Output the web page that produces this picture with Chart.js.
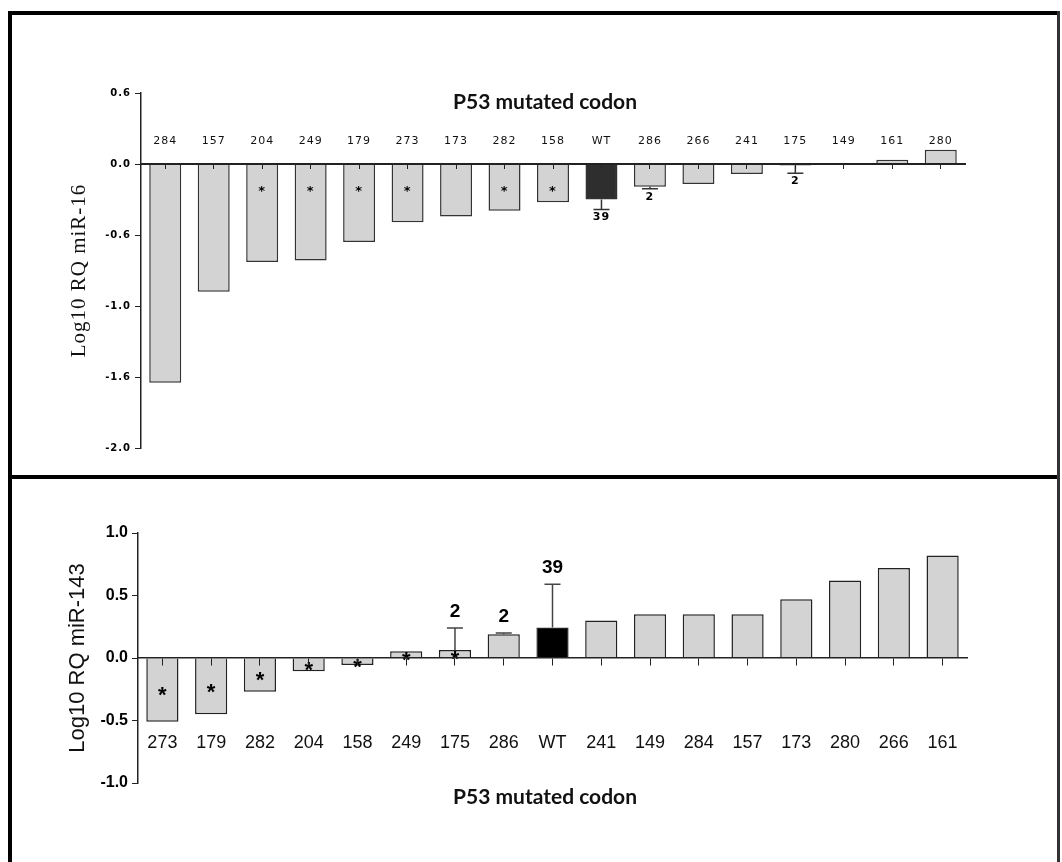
<!DOCTYPE html>
<html>
<head>
<meta charset="utf-8">
<script src="https://cdn.jsdelivr.net/npm/chart.js@4.4.1/dist/chart.umd.min.js"></script>
<style>
  body { margin: 0; background: #fff; }
  #page { position: relative; width: 1062px; height: 862px; overflow: hidden; background: #fff; }
  canvas { position: absolute; left: 0; }
  #c16 { top: 0; }
  #c143 { top: 477px; }
  .rule { position: absolute; background: #000; }
  .title { position: absolute; left: 545px; transform: translate(-50%, -50%);
           font: bold 21px Lato, "Open Sans", sans-serif; color: #111; white-space: nowrap; }
</style>
</head>
<body>
<div id="page">
  <canvas id="c16" width="1062" height="477"></canvas>
  <canvas id="c143" width="1062" height="385"></canvas>
  <div class="title" style="top:100px">P53 mutated codon</div>
  <div class="title" style="top:795px">P53 mutated codon</div>
  <div class="rule" style="left:8px;top:11px;width:1052px;height:4px"></div>
  <div class="rule" style="left:8px;top:11px;width:4px;height:851px"></div>
  <div class="rule" style="left:8px;top:475px;width:1052px;height:4px"></div>
  <div class="rule" style="left:1057px;top:11px;width:3px;height:851px;background:#333"></div>
</div>
<script>
// miR-16 panel (top)
const codons16 = ['284', '157', '204', '249', '179', '273', '173', '282', '158', 'WT', '286', '266', '241', '175', '149', '161', '280'];
const rq16 = [-1.54, -0.90, -0.69, -0.68, -0.55, -0.41, -0.37, -0.33, -0.27, -0.25, -0.16, -0.14, -0.07, -0.01, 0, 0.03, 0.10];
const err16 = [0, 0, 0, 0, 0, 0, 0, 0, 0, 0.07, 0.015, 0, 0, 0.055, 0, 0, 0];
const n16 = ['', '', '', '', '', '', '', '', '', '39', '2', '', '', '2', '', '', ''];
const star16 = [0, 0, 1, 1, 1, 1, 0, 1, 1, 0, 0, 0, 0, 0, 0, 0, 0];
const yLabels16 = ['0.6', '0.0', '-0.6', '-1.0', '-1.6', '-2.0']; // as printed, top to bottom

// miR-143 panel (bottom)
const codons143 = ['273', '179', '282', '204', '158', '249', '175', '286', 'WT', '241', '149', '284', '157', '173', '280', '266', '161'];
const rq143 = [-0.51, -0.45, -0.27, -0.105, -0.055, 0.055, 0.065, 0.19, 0.245, 0.30, 0.35, 0.35, 0.35, 0.47, 0.62, 0.72, 0.82];
const err143 = [0, 0, 0, 0, 0, 0, 0.175, 0.01, 0.345, 0, 0, 0, 0, 0, 0, 0, 0];
const n143 = ['', '', '', '', '', '', '2', '2', '39', '', '', '', '', '', '', '', ''];
const star143 = [1, 1, 1, 1, 1, 1, 1, 0, 0, 0, 0, 0, 0, 0, 0, 0, 0];

// error bars, n counts and asterisks, placed with the chart's own scales
const barMarks = {
  id: 'barMarks',
  beforeDraw(chart, args, o) {
    chart.ctx.letterSpacing = o.spacing || '0px';
  },
  afterDatasetsDraw(chart, args, o) {
    const ctx = chart.ctx;
    const xs = chart.scales.x, ys = chart.scales.y;
    const zero = ys.getPixelForValue(0);
    ctx.save();
    ctx.fillStyle = '#000';
    ctx.textAlign = 'center';
    o.values.forEach((v, i) => {
      const px = xs.getPixelForValue(i);
      const sgn = v < 0 ? -1 : 1;
      const barEnd = ys.getPixelForValue(v);
      let tip = barEnd;
      if (o.errors[i]) {
        tip = ys.getPixelForValue(v + sgn * o.errors[i]);
        ctx.strokeStyle = o.errColor;
        ctx.lineWidth = 1.5;
        ctx.beginPath();
        ctx.moveTo(px, barEnd);
        ctx.lineTo(px, tip);
        ctx.moveTo(px - o.cap, tip);
        ctx.lineTo(px + o.cap, tip);
        ctx.stroke();
      }
      if (o.counts[i]) {
        ctx.font = o.countFont;
        ctx.textBaseline = 'middle';
        ctx.fillText(o.counts[i], px, tip - sgn * o.countGap);
      }
      if (o.stars[i]) {
        const sy = o.starDepth ? zero + o.starDepth : (zero + barEnd) / 2;
        ctx.font = o.starFont;
        ctx.textBaseline = 'alphabetic';
        ctx.fillText('*', px, sy + o.starSize * 0.57);
      }
    });
    ctx.restore();
  },
  afterDraw(chart) {
    chart.ctx.letterSpacing = '0px';
  }
};

function panel(id, p) {
  return new Chart(document.getElementById(id), {
    type: 'bar',
    data: {
      labels: p.labels,
      datasets: [{
        data: p.values,
        backgroundColor: p.labels.map(c => c === 'WT' ? p.wtColor : '#d3d3d3'),
        borderColor: p.edge,
        borderWidth: 1.5,
        barPercentage: 0.66,
        categoryPercentage: 1
      }]
    },
    options: {
      responsive: false,
      animation: false,
      devicePixelRatio: 1,
      layout: { padding: p.pad },
      plugins: {
        legend: { display: false },
        tooltip: { enabled: false },
        barMarks: p.marks
      },
      scales: {
        x: {
          position: { y: 0 },
          offset: true,
          grid: { offset: false, drawOnChartArea: false, tickLength: p.tickLen, color: '#222', z: 1 },
          border: { color: '#222', width: p.axisWidth, z: 1 },
          ticks: { font: p.xFont, color: '#111', padding: p.xPad, maxRotation: 0, autoSkip: false }
        },
        y: {
          min: p.min,
          max: p.max,
          ticks: { stepSize: 0.5, font: p.yFont, color: '#000', padding: 4, callback: p.yText },
          grid: { drawOnChartArea: false, tickLength: 6, color: '#222' },
          border: { color: '#222', width: 1.5 },
          title: { display: true, text: p.yTitle, font: p.titleFont, color: '#111', padding: { top: p.titleGap, bottom: 0 } },
          afterFit: s => { s.width = p.axisLeft; }
        }
      }
    },
    plugins: [barMarks]
  });
}

panel('c16', {
  labels: codons16, values: rq16, wtColor: '#2e2e2e', edge: '#333',
  pad: { left: 0, top: 93, right: 97, bottom: 29 },
  min: -2.0, max: 0.5, axisLeft: 141, axisWidth: 2, tickLen: 4,
  xFont: { family: 'DejaVu Sans', size: 11 }, xPad: -33,
  yFont: { family: 'DejaVu Sans', size: 10, weight: 'bold' },
  yText: (v, i, ticks) => yLabels16[ticks.length - 1 - i],
  yTitle: 'Log10 RQ miR-16', titleFont: { family: 'Liberation Serif', size: 21 }, titleGap: 67,
  marks: { values: rq16, errors: err16, counts: n16, stars: star16, errColor: '#333', cap: 8,
           countFont: 'bold 11px "DejaVu Sans"', countGap: 8,
           starFont: 'bold 13px "DejaVu Sans"', starSize: 13, starDepth: 24, spacing: '1px' }
});

panel('c143', {
  labels: codons143, values: rq143, wtColor: '#000', edge: '#222',
  pad: { left: 0, top: 56, right: 95, bottom: 79 },
  min: -1.0, max: 1.0, axisLeft: 138, axisWidth: 1.5, tickLen: 7,
  xFont: { family: 'Liberation Sans', size: 18 }, xPad: 67,
  yFont: { family: 'Liberation Sans', size: 16, weight: 'bold' },
  yText: v => v.toFixed(1),
  yTitle: 'Log10 RQ miR-143', titleFont: { family: 'Liberation Sans', size: 22 }, titleGap: 65,
  marks: { values: rq143, errors: err143, counts: n143, stars: star143, errColor: '#444', cap: 8,
           countFont: 'bold 19px "Liberation Sans"', countGap: 16,
           starFont: 'bold 22px "Liberation Sans"', starSize: 22, starDepth: 0 }
});
</script>
</body>
</html>
